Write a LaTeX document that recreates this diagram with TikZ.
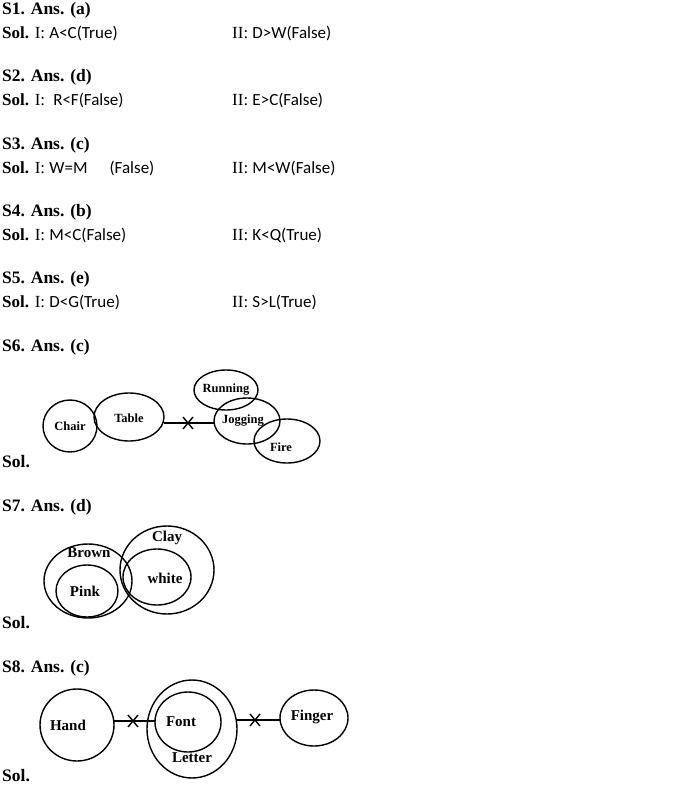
\documentclass[tikz,border=0pt]{standalone}
\usepackage{fontspec}
\setmainfont{Liberation Serif}
\newfontfamily\calfnt{Carlito}
\begin{document}
\begin{tikzpicture}[x=1pt,y=-1pt,
  hd/.style={anchor=west,font=\fontsize{17.5}{18}\selectfont\bfseries,inner sep=0},
  tx/.style={anchor=west,font=\fontsize{17}{18}\selectfont,inner sep=0},
  lb/.style={font=\fontsize{12.5}{13}\selectfont\bfseries,inner sep=0},
  lb2/.style={font=\fontsize{15}{16}\selectfont\bfseries,inner sep=0},
  ell/.style={draw,line width=1.4pt},
  ln/.style={line width=1.4pt}]
\useasboundingbox (0,0) rectangle (686,787);
\foreach \n/\a/\y/\one/\two in {1/a/10/A<C(True)/D>W(False),2/d/77/ R<F(False)/E>C(False),3/c/145/W=M\hspace{22pt}(False)/M<W(False),4/b/212/M<C(False)/K<Q(True),5/e/279/D<G(True)/S>L(True)}{
  \node[hd] (h\n) at (2,\y) {S\n. Ans. (\a)};
  \node[tx] (s\n) at (2,\y+23) {\textbf{Sol.} I: {\calfnt\one}};
  \node[tx] (t\n) at (232,\y+23) {II: {\calfnt\two}};
}
\node[hd] (h6) at (2,347) {S6. Ans. (c)};
\node[hd] (s6) at (2,462) {Sol.};
\node[hd] (h7) at (2,507) {S7. Ans. (d)};
\node[hd] (s7) at (2,623) {Sol.};
\node[hd] (h8) at (2,668) {S8. Ans. (c)};
\node[hd] (s8) at (2,776) {Sol.};
% S6
\draw[ell] (70,426) ellipse (27 and 26);
\draw[ell] (129,417) ellipse (35 and 24);
\draw[ell] (226,390) ellipse (32 and 20);
\draw[ell] (247,421) ellipse (33 and 23);
\draw[ell] (287,441) ellipse (33 and 22);
\node[lb] (chair) at (70,426) {Chair};
\node[lb] (table) at (129,418) {Table};
\node[lb] (run) at (226,390) {Running};
\node[lb] (jog) at (243,421) {Jogging};
\node[lb] (fire) at (281,447) {Fire};
\coordinate (a6) at (164,423); \coordinate (b6) at (214,423);
\draw[ln] (a6) -- (b6);
\draw[ln] (183,417) -- (193,429) (183,429) -- (193,417);
% S7
\draw[ell] (88,581) ellipse (44 and 37);
\draw[ell] (87,591) ellipse (31 and 26);
\draw[ell] (167,570) ellipse (47 and 44);
\draw[ell] (157,577) ellipse (34 and 28);
\node[lb2] (brown) at (89,553) {Brown};
\node[lb2] (pink) at (85,591) {Pink};
\node[lb2] (clay) at (167,538) {Clay};
\node[lb2] (white) at (165,578) {white};
% S8
\draw[ell] (77,725) ellipse (37 and 36);
\draw[ell] (192,729) ellipse (45 and 49);
\draw[ell] (188,722) ellipse (33 and 30);
\draw[ell] (314,718) ellipse (34 and 28);
\node[lb2] (hand) at (68,725) {Hand};
\node[lb2] (font) at (181,722) {Font};
\node[lb2] (letter) at (192,758) {Letter};
\node[lb2] (finger) at (312,717) {Finger};
\coordinate (a8) at (114,721); \coordinate (b8) at (155,721);
\coordinate (c8) at (237,720); \coordinate (d8) at (280,720);
\draw[ln] (a8) -- (b8);
\draw[ln] (c8) -- (d8);
\draw[ln] (128,715) -- (138,727) (128,727) -- (138,715);
\draw[ln] (250,714) -- (260,726) (250,726) -- (260,714);
\end{tikzpicture}
\end{document}
